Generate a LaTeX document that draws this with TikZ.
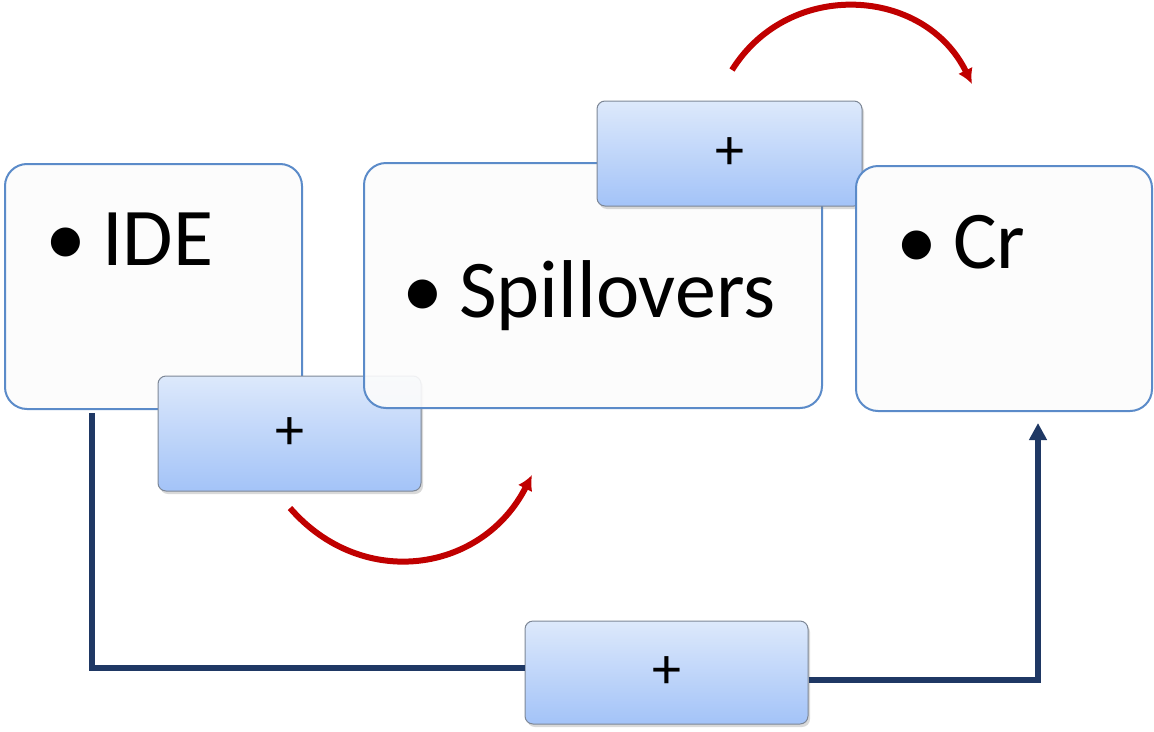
\documentclass[tikz,border=0pt]{standalone}
\usepackage{fontspec}
\setmainfont{Carlito}
\usetikzlibrary{arrows.meta,shadows}

\definecolor{boxline}{HTML}{5B8BC9}
\definecolor{boxfill}{HTML}{FCFCFC}
\definecolor{plustop}{HTML}{DDE9FB}
\definecolor{plusbot}{HTML}{A3C3F8}
\definecolor{plusline}{HTML}{7D8796}
\definecolor{navy}{HTML}{1F3864}
\definecolor{darkred}{HTML}{C00000}

\tikzset{
  itembox/.style={draw=boxline, fill=boxfill, line width=2pt, rounded corners=22pt, inner sep=0pt},
  plusbox/.style={draw=plusline, line width=1pt, rounded corners=8pt, top color=plustop, bottom color=plusbot,
    drop shadow={shadow xshift=2pt, shadow yshift=-3pt, opacity=0.3}, font=\fontsize{58}{64}\selectfont, inner sep=0pt},
  itemtext/.style={anchor=base west, inner sep=0pt, font=\fontsize{82}{96}\selectfont},
  link/.style={draw=navy, line width=5.5pt},
  turn/.style={draw=darkred, line width=6pt, looseness=1.15, -{Latex[length=15pt,width=16pt]}},
}

\begin{document}
\begin{tikzpicture}[x=1pt, y=1pt]
    \useasboundingbox (0,0) rectangle (1154,-731);

    % --- CAJAS ---
    \node[itembox, minimum width=297pt, minimum height=245pt] (ide) at (153.5,-286.5) {};
    \node[plusbox, minimum width=263pt, minimum height=115pt] (plusA) at (289.5,-433.5) {+};
    \node[itembox, fill opacity=0.9, minimum width=458pt, minimum height=245pt] (spill) at (593,-285.5) {};
    \node[plusbox, minimum width=265pt, minimum height=105pt] (plusB) at (729.5,-153.5) {+};
    \node[itembox, minimum width=296pt, minimum height=245pt] (cr) at (1004,-288.5) {};
    \node[plusbox, minimum width=283pt, minimum height=103pt] (plusC) at (666.5,-672.5) {+};

    % --- TEXTOS ---
    \node[itemtext] (ideT) at (45,-265) {\textbullet\hspace{16pt}IDE};
    \node[itemtext] (spillT) at (402,-317) {\textbullet\hspace{16pt}Spillovers};
    \node[itemtext] (crT) at (896,-268) {\textbullet\hspace{16pt}Cr};

    % --- CONEXIONES ---
    \draw[link] ([shift={(88,-3)}]ide.south west) |- ([shift={(0,4.5)}]plusC.west);
    \draw[link, -{Triangle[length=17pt,width=17pt]}] ([shift={(0,-7.5)}]plusC.east) -| ([shift={(34,-11)}]cr.south);

    % --- FLECHAS ROJAS ---
    \coordinate (a1) at (290,-508);
    \coordinate (a2) at (532,-475);
    \draw[turn] (a1) to[out=-49, in=-117] (a2);
    \coordinate (b1) at (732,-70);
    \coordinate (b2) at (972,-84);
    \draw[turn] (b1) to[out=58, in=116] (b2);
\end{tikzpicture}
\end{document}
